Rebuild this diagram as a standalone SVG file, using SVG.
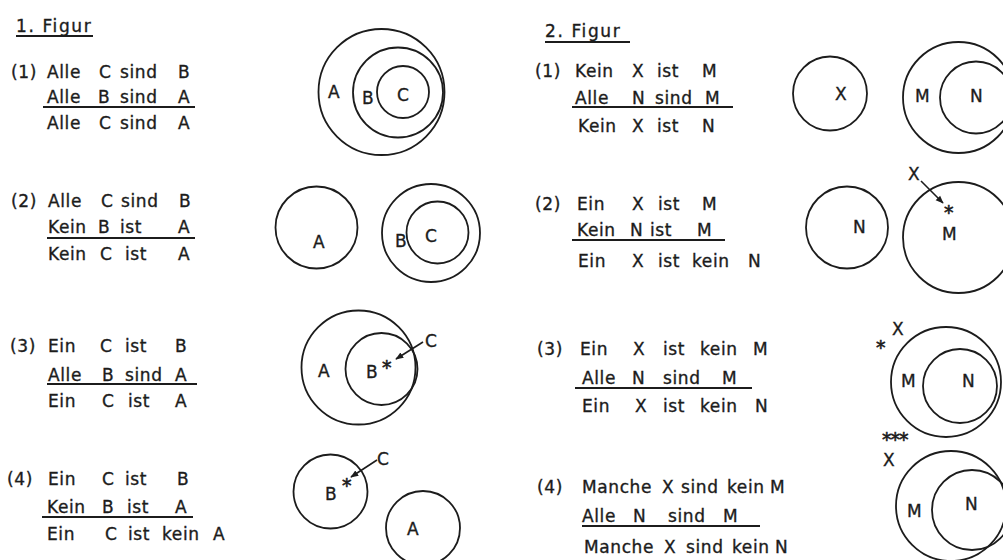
<svg xmlns="http://www.w3.org/2000/svg" width="1003" height="560" viewBox="0 0 1003 560">
  <style>
    text { font-family: "DejaVu Sans", "Liberation Sans", sans-serif; font-size: 17px; fill: #1c1c1c; stroke: #1c1c1c; stroke-width: 0.35px; letter-spacing: 0.6px; }
    .title { letter-spacing: 1.6px; }
    .lbl { font-size: 17px; letter-spacing: 0; }
    .star { font-size: 19px; letter-spacing: -1px; stroke-width: 0.6px; }
    .set { fill: none; stroke: #1c1c1c; stroke-width: 1.8; }
    .rule { stroke: #1c1c1c; stroke-width: 1.9; }
    .conn { stroke: #1c1c1c; stroke-width: 1.6; fill: none; }
  </style>
  <defs>
    <marker id="arrow" viewBox="0 0 10 10" refX="9" refY="5" markerWidth="5" markerHeight="5" orient="auto">
      <path d="M0,1 L10,5 L0,9 z" fill="#1c1c1c"/>
    </marker>
  </defs>
  <rect width="1003" height="560" fill="#ffffff"/>

  <!-- Column 1: first figure syllogisms -->
  <g id="fig1-title">
    <text class="title" x="16" y="32">1. Figur</text>
    <line class="rule" x1="16" y1="36" x2="93" y2="36"/>
  </g>

  <g id="fig1-s1-text">
    <text y="78"><tspan x="11">(1)</tspan><tspan x="47">Alle</tspan><tspan x="99">C</tspan><tspan x="120">sind</tspan><tspan x="178">B</tspan></text>
    <text y="103"><tspan x="47">Alle</tspan><tspan x="98">B</tspan><tspan x="120">sind</tspan><tspan x="178">A</tspan></text>
    <line class="rule" x1="43" y1="107" x2="195" y2="107"/>
    <text y="129"><tspan x="47">Alle</tspan><tspan x="99">C</tspan><tspan x="120">sind</tspan><tspan x="178">A</tspan></text>
  </g>

  <g id="fig1-s2-text">
    <text y="207"><tspan x="11">(2)</tspan><tspan x="48">Alle</tspan><tspan x="101">C</tspan><tspan x="121">sind</tspan><tspan x="179">B</tspan></text>
    <text y="233"><tspan x="48">Kein</tspan><tspan x="98">B</tspan><tspan x="120">ist</tspan><tspan x="178">A</tspan></text>
    <line class="rule" x1="47" y1="238" x2="195" y2="238"/>
    <text y="260"><tspan x="48">Kein</tspan><tspan x="100">C</tspan><tspan x="125">ist</tspan><tspan x="178">A</tspan></text>
  </g>

  <g id="fig1-s3-text">
    <text y="352"><tspan x="10">(3)</tspan><tspan x="48">Ein</tspan><tspan x="100">C</tspan><tspan x="125">ist</tspan><tspan x="175">B</tspan></text>
    <text y="381"><tspan x="48">Alle</tspan><tspan x="102">B</tspan><tspan x="125">sind</tspan><tspan x="175">A</tspan></text>
    <line class="rule" x1="47" y1="384" x2="197" y2="384"/>
    <text y="407"><tspan x="48">Ein</tspan><tspan x="102">C</tspan><tspan x="128">ist</tspan><tspan x="175">A</tspan></text>
  </g>

  <g id="fig1-s4-text">
    <text y="485"><tspan x="7">(4)</tspan><tspan x="48">Ein</tspan><tspan x="102">C</tspan><tspan x="125">ist</tspan><tspan x="177">B</tspan></text>
    <text y="513"><tspan x="47">Kein</tspan><tspan x="102">B</tspan><tspan x="127">ist</tspan><tspan x="175">A</tspan></text>
    <line class="rule" x1="42" y1="517" x2="193" y2="517"/>
    <text y="540"><tspan x="47">Ein</tspan><tspan x="105">C</tspan><tspan x="128">ist</tspan><tspan x="162">kein</tspan><tspan x="213">A</tspan></text>
  </g>

  <!-- Column 1: diagrams -->
  <g id="fig1-d1">
    <circle class="set" cx="381.5" cy="92" r="63"/>
    <circle class="set" cx="398" cy="92.5" r="45"/>
    <circle class="set" cx="403" cy="92" r="26"/>
    <text class="lbl" x="328" y="98">A</text>
    <text class="lbl" x="362" y="104">B</text>
    <text class="lbl" x="397" y="101">C</text>
  </g>

  <g id="fig1-d2">
    <circle class="set" cx="316.5" cy="227.5" r="41"/>
    <text class="lbl" x="313" y="248">A</text>
    <circle class="set" cx="431" cy="233" r="49"/>
    <circle class="set" cx="437.5" cy="232.5" r="31"/>
    <text class="lbl" x="395" y="247">B</text>
    <text class="lbl" x="425" y="242">C</text>
  </g>

  <g id="fig1-d3">
    <circle class="set" cx="358.5" cy="367.5" r="57"/>
    <circle class="set" cx="381.5" cy="369" r="36"/>
    <text class="lbl" x="318" y="377">A</text>
    <text class="lbl" x="366" y="378">B</text>
    <text class="star" x="382" y="374">*</text>
    <text class="lbl" x="425" y="347">C</text>
  </g>

  <g id="fig1-d4">
    <circle class="set" cx="330.5" cy="491.5" r="37"/>
    <text class="lbl" x="325" y="500">B</text>
    <text class="star" x="342" y="492">*</text>
    <text class="lbl" x="377" y="465">C</text>
    <circle class="set" cx="423" cy="528" r="37"/>
    <text class="lbl" x="407" y="535">A</text>
  </g>

  <!-- Column 2: second figure syllogisms -->
  <g id="fig2-title">
    <text class="title" x="545" y="37">2. Figur</text>
    <line class="rule" x1="545" y1="42" x2="630" y2="42"/>
  </g>

  <g id="fig2-s1-text">
    <text y="77"><tspan x="535">(1)</tspan><tspan x="575">Kein</tspan><tspan x="632">X</tspan><tspan x="657">ist</tspan><tspan x="702">M</tspan></text>
    <text y="104"><tspan x="575">Alle</tspan><tspan x="632">N</tspan><tspan x="655">sind</tspan><tspan x="705">M</tspan></text>
    <line class="rule" x1="572" y1="107" x2="733" y2="107"/>
    <text y="132"><tspan x="578">Kein</tspan><tspan x="632">X</tspan><tspan x="657">ist</tspan><tspan x="702">N</tspan></text>
  </g>

  <g id="fig2-s2-text">
    <text y="210"><tspan x="535">(2)</tspan><tspan x="577">Ein</tspan><tspan x="632">X</tspan><tspan x="658">ist</tspan><tspan x="702">M</tspan></text>
    <text y="236"><tspan x="577">Kein</tspan><tspan x="630">N</tspan><tspan x="650">ist</tspan><tspan x="697">M</tspan></text>
    <line class="rule" x1="572" y1="240" x2="725" y2="240"/>
    <text y="267"><tspan x="578">Ein</tspan><tspan x="632">X</tspan><tspan x="658">ist</tspan><tspan x="692">kein</tspan><tspan x="748">N</tspan></text>
  </g>

  <g id="fig2-s3-text">
    <text y="355"><tspan x="537">(3)</tspan><tspan x="580">Ein</tspan><tspan x="633">X</tspan><tspan x="663">ist</tspan><tspan x="700">kein</tspan><tspan x="753">M</tspan></text>
    <text y="384"><tspan x="582">Alle</tspan><tspan x="632">N</tspan><tspan x="663">sind</tspan><tspan x="722">M</tspan></text>
    <line class="rule" x1="575" y1="388" x2="752" y2="388"/>
    <text y="412"><tspan x="582">Ein</tspan><tspan x="635">X</tspan><tspan x="663">ist</tspan><tspan x="700">kein</tspan><tspan x="755">N</tspan></text>
  </g>

  <g id="fig2-s4-text">
    <text y="493"><tspan x="537">(4)</tspan><tspan x="582">Manche</tspan><tspan x="662">X</tspan><tspan x="681">sind</tspan><tspan x="727">kein</tspan><tspan x="770">M</tspan></text>
    <text y="522"><tspan x="582">Alle</tspan><tspan x="633">N</tspan><tspan x="668">sind</tspan><tspan x="723">M</tspan></text>
    <line class="rule" x1="582" y1="526" x2="760" y2="526"/>
    <text y="553"><tspan x="584">Manche</tspan><tspan x="664">X</tspan><tspan x="686">sind</tspan><tspan x="732">kein</tspan><tspan x="775">N</tspan></text>
  </g>

  <!-- Column 2: diagrams -->
  <g id="fig2-d1">
    <circle class="set" cx="830" cy="93.5" r="37"/>
    <text class="lbl" x="835" y="100">X</text>
    <circle class="set" cx="958.5" cy="97.5" r="55.5"/>
    <circle class="set" cx="976" cy="97.5" r="36"/>
    <text class="lbl" x="915" y="102">M</text>
    <text class="lbl" x="970" y="102">N</text>
  </g>

  <g id="fig2-d2">
    <circle class="set" cx="847" cy="227.5" r="41"/>
    <text class="lbl" x="853" y="233">N</text>
    <circle class="set" cx="958.5" cy="237.5" r="55.5"/>
    <text class="lbl" x="942" y="240">M</text>
    <text class="star" x="944" y="219">*</text>
    <text class="lbl" x="908" y="180">X</text>
  </g>

  <g id="fig2-d3">
    <circle class="set" cx="946" cy="382" r="55"/>
    <circle class="set" cx="960" cy="386" r="37"/>
    <text class="lbl" x="901" y="387">M</text>
    <text class="lbl" x="962" y="387">N</text>
    <text class="star" x="876" y="354">*</text>
    <text class="lbl" x="892" y="335">X</text>
  </g>

  <g id="fig2-d4">
    <text class="star" x="882" y="446">***</text>
    <text class="lbl" x="883" y="466">X</text>
    <circle class="set" cx="951" cy="506" r="55"/>
    <circle class="set" cx="972" cy="510" r="40"/>
    <text class="lbl" x="907" y="517">M</text>
    <text class="lbl" x="965" y="510">N</text>
  </g>

  <!-- Arrows pointing from element labels to their marked positions -->
  <g id="connectors">
    <line class="conn" x1="423" y1="342" x2="396" y2="359" marker-end="url(#arrow)"/>
    <line class="conn" x1="377" y1="460" x2="351" y2="477" marker-end="url(#arrow)"/>
    <line class="conn" x1="921" y1="181" x2="943" y2="203" marker-end="url(#arrow)"/>
  </g>
</svg>
